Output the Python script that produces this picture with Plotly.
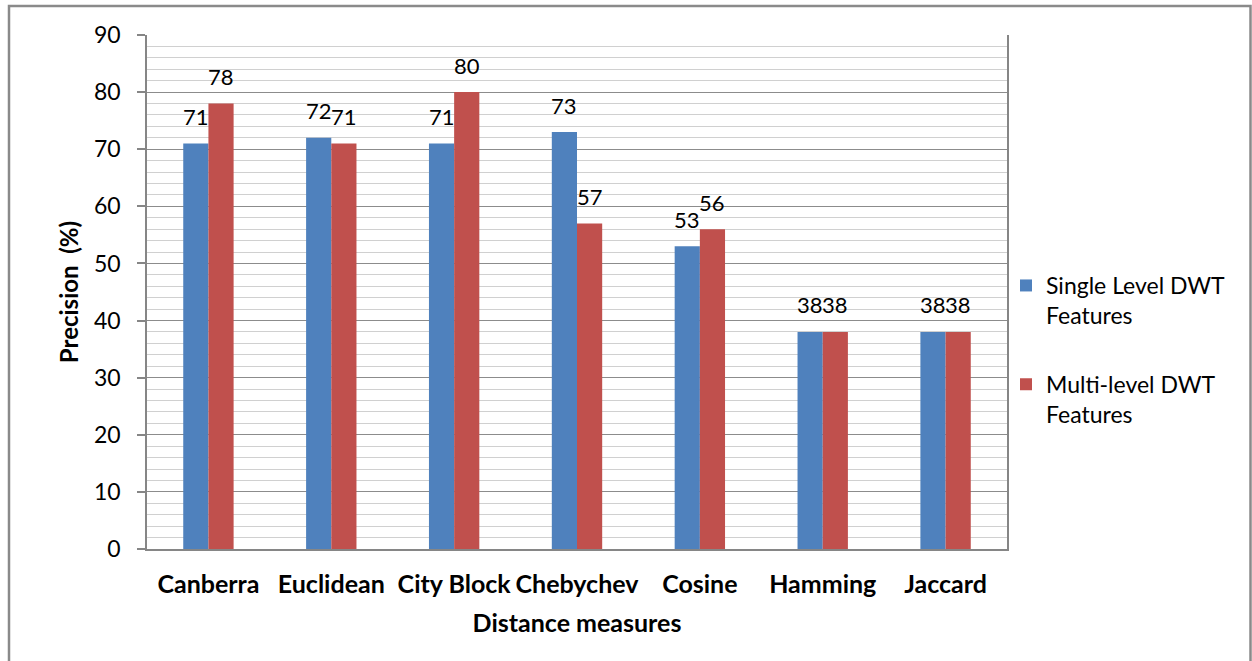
import plotly.graph_objects as go

categories = ["Canberra", "Euclidean", "City Block", "Chebychev", "Cosine", "Hamming", "Jaccard"]
single_level = [71, 72, 71, 73, 53, 38, 38]
multi_level = [78, 71, 80, 57, 56, 38, 38]
series_names = ["Single Level DWT<br>Features", "Multi-level DWT<br>Features"]
y_ticks = [0, 10, 20, 30, 40, 50, 60, 70, 80, 90]

W, H = 1252, 661
L, R, T, B = 147, 1007, 35, 549

FONT = "Lato, Calibri, Carlito, sans-serif"
BARGAP = 0.59

fig = go.Figure()
bar_px = (R - L) / len(categories) * (1 - BARGAP) / 2
annotations = []
for i, (name, vals, col, grp) in enumerate([(series_names[0], single_level, "#4F81BD", "a"),
                                            (series_names[1], multi_level, "#C0504D", "b")]):
    fig.add_trace(go.Bar(
        x=categories, y=vals, name=name, legendgroup=grp,
        marker=dict(color=col, line=dict(width=0)),
    ))
    shift = (-0.5 if i == 0 else 0.5) * bar_px
    for c, v in zip(categories, vals):
        annotations.append(dict(x=c, y=v, xref="x", yref="y", text=str(v), showarrow=False,
                                xanchor="center", yanchor="middle", xshift=shift, yshift=27,
                                font=dict(family=FONT, size=22, color="#000000")))

def px_to_paper_x(px):
    return (px - L) / (R - L)

def px_to_paper_y(py):
    return (B - py) / (B - T)

fig.update_layout(
    width=W, height=H,
    margin=dict(l=L, r=W - R, t=T, b=H - B, pad=0),
    paper_bgcolor="white", plot_bgcolor="white",
    barmode="group", bargap=BARGAP, bargroupgap=0,
    font=dict(family=FONT, size=20, color="#000000"),
    showlegend=True,
    legend=dict(x=px_to_paper_x(1006), y=px_to_paper_y(264), xanchor="left", yanchor="top",
                font=dict(family=FONT, size=23, color="#000000"),
                tracegroupgap=36, traceorder="grouped", valign="top",
                bgcolor="rgba(0,0,0,0)", itemwidth=30),
    xaxis=dict(
        showgrid=False, showline=True, linecolor="#868686", linewidth=1.5,
        ticks="", ticklabelstandoff=12,
        tickfont=dict(family=FONT, size=25, color="#000000", weight="bold"),
        title=dict(text="<b>Distance measures</b>", font=dict(family=FONT, size=25, color="#000000"),
                   standoff=18),
    ),
    yaxis=dict(
        range=[0, 90], tickvals=y_ticks, showgrid=True, gridcolor="#8C8C8C", gridwidth=1,
        showline=True, linecolor="#868686", linewidth=1.5, mirror=True,
        ticks="outside", ticklen=8, tickcolor="#868686", tickwidth=1.5,
        ticklabelstandoff=12,
        tickfont=dict(family=FONT, size=23, color="#000000"),
        minor=dict(dtick=2, showgrid=True, gridcolor="#D0D0D0", gridwidth=1, ticks=""),
        zeroline=False,
        title=dict(text="<b>Precision\u00a0 (%)</b>", font=dict(family=FONT, size=24, color="#000000"),
                   standoff=9),
    ),
    annotations=annotations,
    shapes=[dict(type="rect", xref="paper", yref="paper",
                 x0=px_to_paper_x(9), x1=px_to_paper_x(1250.5),
                 y0=px_to_paper_y(670), y1=px_to_paper_y(6),
                 line=dict(color="#8A8A8A", width=2.5), fillcolor="rgba(0,0,0,0)", layer="below")],
)

fig.write_html("out.html")
